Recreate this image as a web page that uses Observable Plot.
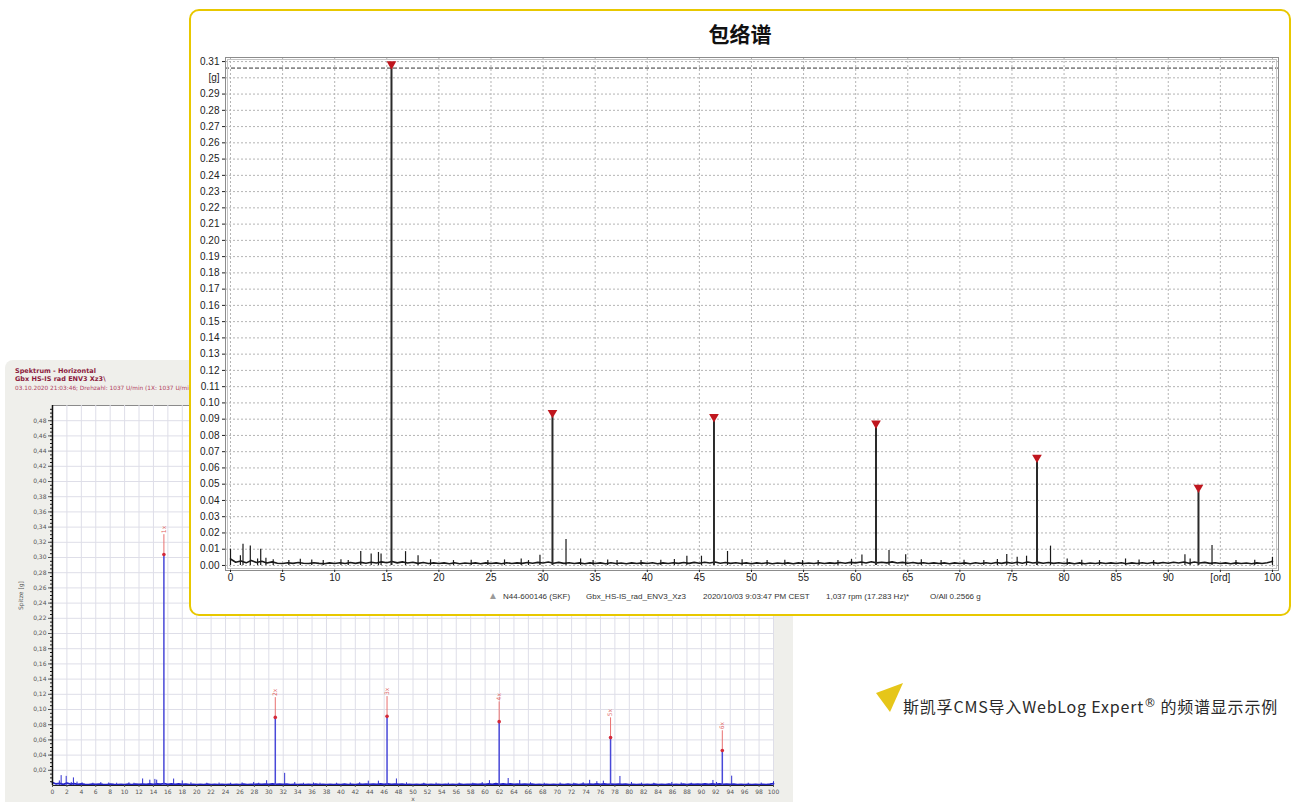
<!DOCTYPE html>
<html><head><meta charset="utf-8">
<script src="https://cdn.jsdelivr.net/npm/d3@7"></script>
<script src="https://cdn.jsdelivr.net/npm/@observablehq/plot@0.6"></script>
<style>
html,body{margin:0;padding:0;background:#fff;width:1291px;height:802px;overflow:hidden;position:relative;font-family:"Liberation Sans",Arial,sans-serif;}
#bgpanel{position:absolute;left:5px;top:360px;width:788px;height:450px;background:#efefeb;border-radius:8px 8px 0 0;}
#bgchart{position:absolute;left:0;top:360px;}
.bgt{position:absolute;left:15px;font-family:"DejaVu Sans",sans-serif;white-space:nowrap;line-height:1;}
#panel{position:absolute;left:189px;top:9px;width:1102px;height:607px;box-sizing:border-box;border:2px solid #e8c800;border-radius:10px;background:#fff;}
#title{position:absolute;left:189px;width:1102px;top:21px;text-align:center;font-weight:bold;font-size:21px;line-height:24px;font-family:"Noto Sans CJK SC",sans-serif;color:#111;}
#mainchart{position:absolute;left:189px;top:40px;}
.lg{position:absolute;top:592px;font-size:8px;line-height:10px;color:#333;white-space:nowrap;font-family:"Liberation Sans",Arial,sans-serif;}
#caption{position:absolute;left:903px;top:695px;font-family:"Noto Sans CJK SC",sans-serif;font-size:16px;line-height:22px;color:#2a2a2a;letter-spacing:0.8px;white-space:nowrap;}
#caption sup{font-family:"DejaVu Sans",sans-serif;font-size:12px;line-height:0;vertical-align:6px;letter-spacing:0;}
#tri{position:absolute;left:870px;top:680px;}
</style></head>
<body>
<div id="bgpanel"></div>
<div id="bgchart"></div>
<div class="bgt" style="top:368px;font-size:6.5px;font-weight:bold;color:#8c1a3c;">Spektrum - Horizontal</div>
<div class="bgt" style="top:376px;font-size:6.5px;font-weight:bold;color:#8c1a3c;">Gbx HS-IS rad ENV3 Xz3\</div>
<div class="bgt" style="top:386px;font-size:5.8px;color:#b04060;">03.10.2020 21:03:46; Drehzahl: 1037 U/min (1X: 1037 U/min)</div>
<div id="panel"></div>
<div id="title">包络谱</div>
<div id="mainchart"></div>
<div class="lg" style="left:488px;top:591px;color:#9a9a9a;font-size:10px;">&#9650;</div>
<div class="lg" style="left:503px;">N44-600146 (SKF)</div>
<div class="lg" style="left:586px;">Gbx_HS-IS_rad_ENV3_Xz3</div>
<div class="lg" style="left:703px;">2020/10/03 9:03:47 PM CEST</div>
<div class="lg" style="left:826px;">1,037 rpm (17.283 Hz)*</div>
<div class="lg" style="left:930px;">O/All 0.2566 g</div>
<svg id="tri" width="40" height="40"><polygon points="6,13 33,3 20,32" fill="#e6c619"/></svg>
<div id="caption">斯凯孚CMS导入WebLog Expert<sup>®</sup> 的频谱显示示例</div>
<script>
// ---------- data ----------
// harmonic peaks (order, amplitude g)
const harmonicOrder = [15.45, 30.9, 46.4, 61.95, 77.4, 92.9];
const envAmp = [0.306, 0.0915, 0.089, 0.085, 0.064, 0.0455];   // main envelope spectrum
const bgAmp = [0.304, 0.0896, 0.091, 0.084, 0.063, 0.046];     // background spectrum
const harmonicLabels = ["1x", "2x", "3x", "4x", "5x", "6x"];

// small side peaks
const spikeOrder = [0.0, 0.95, 1.2, 1.9, 2.6, 2.9, 3.4, 4.1, 5.6, 6.7, 7.8, 8.9, 10.6, 11.3, 12.5, 13.5, 14.2, 14.45, 16.8, 18.0, 19.2, 21.4, 23.1, 24.7, 26.3, 27.9, 28.6, 29.7, 32.2, 33.6, 34.8, 36.2, 37.1, 39.4, 41.3, 42.6, 43.8, 45.2, 47.7, 49.1, 51.5, 53.2, 54.9, 56.4, 58.3, 59.6, 60.6, 63.2, 64.8, 66.3, 68.2, 70.4, 72.3, 73.6, 74.5, 75.5, 76.4, 78.7, 80.3, 81.7, 83.4, 85.9, 87.2, 88.6, 91.6, 92.1, 94.2, 96.5, 98.3, 100.0];
const spikeAmp = [0.010, 0.006, 0.013, 0.012, 0.004, 0.010, 0.0045, 0.0035, 0.003, 0.0038, 0.0033, 0.003, 0.0035, 0.003, 0.0086, 0.007, 0.008, 0.007, 0.0085, 0.006, 0.0035, 0.003, 0.0032, 0.003, 0.0034, 0.004, 0.003, 0.0063, 0.016, 0.004, 0.003, 0.0033, 0.003, 0.003, 0.0032, 0.0036, 0.0057, 0.0057, 0.0086, 0.0035, 0.003, 0.0032, 0.003, 0.0031, 0.003, 0.0038, 0.0064, 0.0092, 0.0066, 0.0035, 0.003, 0.0032, 0.003, 0.0036, 0.0068, 0.005, 0.0057, 0.0119, 0.004, 0.0032, 0.003, 0.004, 0.0033, 0.003, 0.0066, 0.004, 0.0123, 0.003, 0.0032, 0.005];

// noise floor sampled every 0.5 order from 0 to 100
const noiseStep = 0.5;
const noiseAmp = [
0.0040,0.0020,0.0028,0.0016,0.0030,0.0018,0.0026,0.0015,0.0022,0.0014,
0.0012,0.0017,0.0013,0.0018,0.0014,0.0012,0.0017,0.0013,0.0011,0.0016,
0.0012,0.0017,0.0012,0.0018,0.0013,0.0019,0.0014,0.0020,0.0015,0.0022,
0.0017,0.0024,0.0016,0.0022,0.0015,0.0020,0.0013,0.0018,0.0012,0.0016,
0.0012,0.0016,0.0011,0.0017,0.0011,0.0015,0.0012,0.0016,0.0011,0.0016,
0.0012,0.0016,0.0011,0.0017,0.0012,0.0016,0.0013,0.0018,0.0014,0.0019,
0.0015,0.0021,0.0014,0.0019,0.0013,0.0017,0.0012,0.0016,0.0011,0.0016,
0.0012,0.0016,0.0011,0.0017,0.0012,0.0015,0.0011,0.0016,0.0012,0.0016,
0.0012,0.0017,0.0011,0.0016,0.0012,0.0017,0.0013,0.0018,0.0013,0.0019,
0.0014,0.0020,0.0015,0.0021,0.0014,0.0018,0.0013,0.0017,0.0012,0.0016,
0.0011,0.0016,0.0012,0.0017,0.0011,0.0015,0.0012,0.0016,0.0011,0.0016,
0.0012,0.0015,0.0012,0.0017,0.0012,0.0016,0.0013,0.0018,0.0014,0.0019,
0.0016,0.0021,0.0015,0.0023,0.0016,0.0020,0.0016,0.0022,0.0015,0.0019,
0.0014,0.0018,0.0013,0.0017,0.0012,0.0016,0.0012,0.0016,0.0011,0.0016,
0.0012,0.0016,0.0011,0.0017,0.0012,0.0017,0.0012,0.0018,0.0013,0.0019,
0.0014,0.0020,0.0014,0.0021,0.0015,0.0019,0.0014,0.0018,0.0013,0.0017,
0.0012,0.0016,0.0011,0.0016,0.0011,0.0015,0.0012,0.0017,0.0012,0.0016,
0.0012,0.0017,0.0011,0.0016,0.0012,0.0017,0.0012,0.0018,0.0013,0.0018,
0.0014,0.0020,0.0015,0.0021,0.0014,0.0021,0.0015,0.0019,0.0013,0.0017,
0.0012,0.0016,0.0011,0.0016,0.0012,0.0015,0.0011,0.0016,0.0012,0.0017,
0.0025];

// tick values and labels
const mainYTicks = [0,0.01,0.02,0.03,0.04,0.05,0.06,0.07,0.08,0.09,0.10,0.11,0.12,0.13,0.14,0.15,0.16,0.17,0.18,0.19,0.20,0.21,0.22,0.23,0.24,0.25,0.26,0.27,0.28,0.29,0.30,0.31];
const mainYLabels = ["0.00","0.01","0.02","0.03","0.04","0.05","0.06","0.07","0.08","0.09","0.10","0.11","0.12","0.13","0.14","0.15","0.16","0.17","0.18","0.19","0.20","0.21","0.22","0.23","0.24","0.25","0.26","0.27","0.28","0.29","[g]","0.31"];
const mainXTicks = [0,5,10,15,20,25,30,35,40,45,50,55,60,65,70,75,80,85,90,95,100];
const mainXLabels = ["0","5","10","15","20","25","30","35","40","45","50","55","60","65","70","75","80","85","90","[ord]","100"];
const bgYTicks = [0.02,0.04,0.06,0.08,0.10,0.12,0.14,0.16,0.18,0.20,0.22,0.24,0.26,0.28,0.30,0.32,0.34,0.36,0.38,0.40,0.42,0.44,0.46,0.48];
const bgXTicks = [0,2,4,6,8,10,12,14,16,18,20,22,24,26,28,30,32,34,36,38,40,42,44,46,48,50,52,54,56,58,60,62,64,66,68,70,72,74,76,78,80,82,84,86,88,90,92,94,96,98,100];

// ---------- tables ----------
const noise = noiseAmp.map((v, i) => ({x: i * noiseStep, y: v}));
const spikes = spikeOrder.map((x, i) => ({x, y: spikeAmp[i]}));
const harm = harmonicOrder.map((x, i) => ({x, y: envAmp[i]}));
const bgHarm = harmonicOrder.map((x, i) => ({x, y: bgAmp[i], label: harmonicLabels[i]}));
const yLab = new Map(mainYTicks.map((t, i) => [t, mainYLabels[i]]));
const xLab = new Map(mainXTicks.map((t, i) => [t, mainXLabels[i]]));

// ---------- background spectrum ----------
const bgPlot = Plot.plot({
  width: 793, height: 442,
  marginLeft: 52, marginRight: 20, marginTop: 45, marginBottom: 17,
  style: {background: "transparent", fontFamily: "'DejaVu Sans', sans-serif", fontSize: "6px", color: "#555"},
  x: {domain: [0, 100]},
  y: {domain: [0, 0.5]},
  marks: [
    Plot.frame({fill: "#fff", stroke: "#8a8a8a"}),
    Plot.gridX({ticks: bgXTicks, stroke: "#dedee8", strokeOpacity: 1}),
    Plot.gridY({ticks: bgYTicks, stroke: "#dedee8", strokeOpacity: 1}),
    Plot.line(noise, {x: "x", y: "y", stroke: "#2424c8", strokeWidth: 1.8}),
    Plot.ruleX(spikes, {x: "x", y1: 0, y2: "y", stroke: "#3030d0"}),
    Plot.ruleX(bgHarm, {x: "x", y1: 0, y2: "y", stroke: "#4848d8", strokeWidth: 1.5}),
    Plot.ruleX(bgHarm, {x: "x", y1: "y", y2: d => d.y + 0.026, stroke: "#e87070"}),
    Plot.dot(bgHarm, {x: "x", y: "y", r: 1.8, fill: "#d42a3a"}),
    Plot.text(bgHarm, {x: "x", y: d => d.y + 0.028, text: "label", rotate: -90, textAnchor: "start", fill: "#e06060", fontSize: 6}),
    Plot.ruleX([0], {stroke: "#111", strokeWidth: 1.5}),
    Plot.ruleY([0], {stroke: "#222"}),
    Plot.axisY({ticks: d3.range(0.005, 0.5, 0.005), tickSize: 2, tickFormat: () => "", label: null, stroke: "#111"}),
    Plot.axisY({ticks: bgYTicks, tickFormat: d => d.toFixed(2).replace(".", ","), tickSize: 4, tickPadding: 2,
      label: "Spitze [g]", labelAnchor: "center", labelArrow: false, labelOffset: 34}),
    Plot.axisX({ticks: bgXTicks, tickFormat: d => String(d), tickSize: 2, tickPadding: 2,
      label: "x", labelAnchor: "center", labelArrow: false, labelOffset: 15})
  ]
});
document.getElementById("bgchart").appendChild(bgPlot);

// ---------- main envelope spectrum ----------
const mainPlot = Plot.plot({
  width: 1102, height: 560,
  marginLeft: 36, marginRight: 13, marginTop: 17, marginBottom: 30,
  style: {background: "transparent", fontFamily: "'Liberation Sans', Arial, sans-serif", fontSize: "10px", color: "#222"},
  x: {domain: [-0.48, 100.58]},
  y: {domain: [-0.0031, 0.3125]},
  marks: [
    Plot.gridY({ticks: mainYTicks, stroke: "#b4b4b4", strokeOpacity: 1, strokeDasharray: "2,2"}),
    Plot.gridX({ticks: mainXTicks, stroke: "#b4b4b4", strokeOpacity: 1, strokeDasharray: "2,2"}),
    Plot.ruleY([d3.max(envAmp)], {stroke: "#333", strokeDasharray: "4,2"}),
    Plot.line(noise, {x: "x", y: "y", stroke: "#1a1a1a", strokeWidth: 1.6}),
    Plot.ruleX(spikes, {x: "x", y1: 0, y2: "y", stroke: "#1a1a1a", strokeWidth: 1.2}),
    Plot.ruleX(harm, {x: "x", y1: 0, y2: "y", stroke: "#2a2a2a", strokeWidth: 2}),
    Plot.dot(harm, {x: "x", y: "y", symbol: "triangle", rotate: 180, r: 3.6, fill: "#c0161e", stroke: "none", dy: -4}),
    Plot.frame({stroke: "#8c8c8c"}),
    Plot.frame({stroke: "#c4c4c4", inset: 2}),
    Plot.axisY({ticks: mainYTicks, tickFormat: d => yLab.get(d), tickSize: 3, tickPadding: 3, label: null}),
    Plot.axisX({ticks: mainXTicks, tickFormat: d => xLab.get(d), tickSize: 2, tickPadding: 1, label: null})
  ]
});
document.getElementById("mainchart").appendChild(mainPlot);
</script>
</body></html>
